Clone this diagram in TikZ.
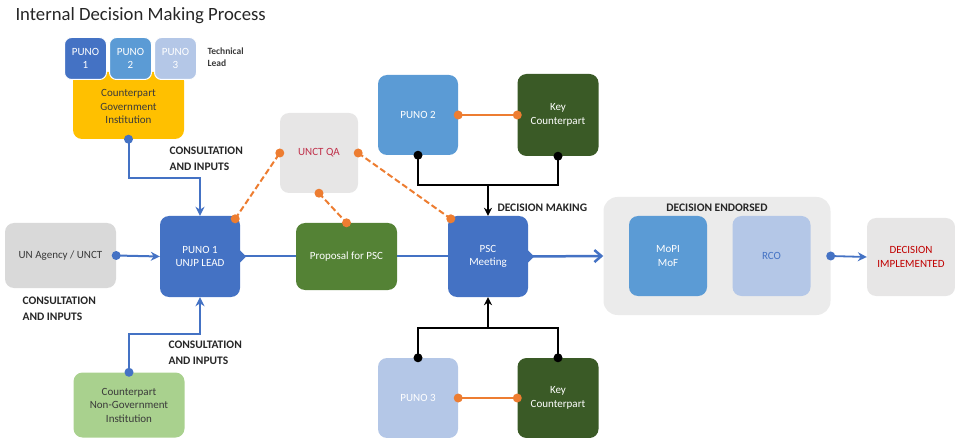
\documentclass[tikz,border=0pt]{standalone}
\usepackage{fontspec}
\setmainfont{Carlito}
\usetikzlibrary{arrows.meta}
\definecolor{dblue}{HTML}{4472C4}
\definecolor{mblue}{HTML}{5B9BD5}
\definecolor{lblue}{HTML}{B4C7E7}
\definecolor{gold}{HTML}{FFC000}
\definecolor{lgreen}{HTML}{A9D18E}
\definecolor{mgreen}{HTML}{548235}
\definecolor{dgreen}{HTML}{3A5A26}
\definecolor{grey1}{HTML}{D9D9D9}
\definecolor{grey2}{HTML}{E7E6E6}
\definecolor{grey3}{HTML}{EBEBEB}
\definecolor{orng}{HTML}{ED7D31}
\definecolor{redtxt}{HTML}{C00000}
\definecolor{qatxt}{HTML}{C0304A}
\definecolor{dtxt}{HTML}{3A3A3A}
\begin{document}
\begin{tikzpicture}[x=1pt,y=-1pt,
  box/.style={rectangle, rounded corners=9pt, inner sep=2pt, align=center,
    font=\fontsize{11}{13.5}\selectfont},
  lbl/.style={align=left, anchor=west, font=\bfseries\fontsize{11.5}{15.5}\selectfont, text=black!85},
  bline/.style={draw=dblue, line width=2pt},
  barrow/.style={bline, -{Stealth[length=9pt,width=9pt]}},
  kline/.style={draw=black, line width=2pt},
  karrow/.style={kline, -{Stealth[length=8pt,width=8pt]}},
  oline/.style={draw=orng, line width=2pt},
  odash/.style={draw=orng, line width=2pt, dash pattern=on 6pt off 3pt},
]
\useasboundingbox (0,0) rectangle (955,438);

% title
\node[anchor=west, font=\fontsize{18.7}{21}\selectfont, text=black!85] (title) at (12,16) {Internal Decision Making Process};

% left cluster
\node[box, fill=gold, text=dtxt, minimum width=111, minimum height=67] (cgi) at (128.5,105.5)
  {\\[-4pt]Counterpart\\Government\\Institution};
\node[box, fill=dblue, draw=white, line width=1pt, text=white, minimum width=42, minimum height=42, rounded corners=7pt] (p1s) at (85.5,58.5) {PUNO\\1};
\node[box, fill=mblue, draw=white, line width=1pt, text=white, minimum width=42, minimum height=42, rounded corners=7pt] (p2s) at (130.5,58.5) {PUNO\\2};
\node[box, fill=lblue, draw=white, line width=1pt, text=white, minimum width=42, minimum height=42, rounded corners=7pt] (p3s) at (175.5,58.5) {PUNO\\3};
\node[lbl, font=\bfseries\fontsize{9.5}{12}\selectfont, text=dtxt] (tech) at (204,57) {Technical\\Lead};

\node[box, fill=grey1, text=dtxt, minimum width=111, minimum height=65] (un) at (60.5,255.5) {UN Agency / UNCT};
\node[box, fill=dblue, text=white, minimum width=80, minimum height=81] (p1) at (200,256.5) {PUNO 1\\UNJP LEAD};
\node[box, fill=lgreen, text=dtxt, minimum width=111, minimum height=65] (cngi) at (129,405) {Counterpart\\Non-Government\\Institution};

\node[lbl] (c1) at (166,159) {CONSULTATION\\AND INPUTS};
\node[lbl] (c2) at (19,309) {CONSULTATION\\AND INPUTS};
\node[lbl] (c3) at (165,353) {CONSULTATION\\AND INPUTS};

% middle
\node[box, fill=grey2, text=qatxt, minimum width=78, minimum height=80] (qa) at (319,153) {UNCT QA};
\node[box, fill=mgreen, text=white, minimum width=101, minimum height=67] (prop) at (346.5,256.5) {Proposal for PSC};
\node[box, fill=dblue, text=white, minimum width=80, minimum height=81] (psc) at (488,256.5) {PSC\\Meeting};

\node[box, fill=mblue, text=white, minimum width=80, minimum height=80] (p2) at (418,115) {PUNO 2};
\node[box, fill=dgreen, text=white, minimum width=81, minimum height=82] (kc1) at (558,115) {Key\\Counterpart};
\node[box, fill=lblue, text=white, minimum width=80, minimum height=80] (p3) at (418,398) {PUNO 3};
\node[box, fill=dgreen, text=white, minimum width=81, minimum height=80] (kc2) at (558,398) {Key\\Counterpart};

\node[lbl] (dm) at (494,208) {DECISION MAKING};

% right
\node[box, fill=grey3, minimum width=227, minimum height=118, rounded corners=14pt] (endb) at (717,256) {};
\node[font=\bfseries\fontsize{11.5}{13}\selectfont, text=black!85] (endl) at (717,208) {DECISION ENDORSED};
\node[box, fill=mblue, text=white, minimum width=78, minimum height=80] (mopi) at (668,256) {MoPI\\MoF};
\node[box, fill=lblue, text=dblue, minimum width=78, minimum height=80] (rco) at (771.5,256) {RCO};
\node[box, fill=grey2, text=redtxt, minimum width=88, minimum height=78] (impl) at (911,257) {DECISION\\IMPLEMENTED};

% blue connectors
\draw[barrow] (cgi.south) -- ++(0,39) -| (p1.north);
\fill[dblue] (cgi.south) circle (4.5);
\draw[barrow] (un.east) -- (p1.west);
\fill[dblue] (un.east) circle (4.5);
\draw[barrow] (cngi.north) -- ++(0,-38) -| (p1.south);
\fill[dblue] (cngi.north) circle (4.5);

\draw[bline] (p1.east) -- (prop.west);
\draw[bline] (prop.east) -- (psc.west);
\fill[dblue] ([yshift=-6pt]p1.east) -- ([xshift=6pt]p1.east) -- ([yshift=6pt]p1.east) -- cycle;
\fill[dblue] ([yshift=-6pt]psc.east) -- ([xshift=6pt]psc.east) -- ([yshift=6pt]psc.east) -- cycle;
\draw[bline, line width=2.5pt, -{Straight Barb[length=7pt,width=12pt,line width=2.5pt]}] (psc.east) -- (endb.west);

\draw[barrow, line width=1.8pt] (endb.east) -- (impl.west);
\fill[dblue] (endb.east) circle (4.5);

% orange dashed
\draw[odash] ([shift={(-5,3)}]p1.north east) -- (qa.west);
\draw[odash] (qa.south) -- (prop.north);
\draw[odash] (qa.east) -- ([shift={(3,3)}]psc.north west);
\foreach \p in {([shift={(-5,3)}]p1.north east), (qa.west), (qa.south), (prop.north), (qa.east), ([shift={(3,3)}]psc.north west)}
  \fill[orng] \p circle (4.5);

% orange solid
\draw[oline] (p2.east) -- (kc1.west);
\fill[orng] (p2.east) circle (4.5);
\fill[orng] (kc1.west) circle (4.5);
\draw[oline] (p3.east) -- (kc2.west);
\fill[orng] (p3.east) circle (4.5);
\fill[orng] (kc2.west) circle (4.5);

% black connectors
\coordinate (topj) at (488,185);
\coordinate (botj) at (488,328);
\draw[kline] (p2.south) |- (topj) -| (kc1.south);
\draw[karrow] (topj) -- (psc.north);
\fill (p2.south) circle (4.5);
\fill (kc1.south) circle (4.5);
\draw[kline] (p3.north) |- (botj) -| (kc2.north);
\draw[karrow] (botj) -- (psc.south);
\fill (p3.north) circle (4.5);
\fill (kc2.north) circle (4.5);
\end{tikzpicture}
\end{document}
